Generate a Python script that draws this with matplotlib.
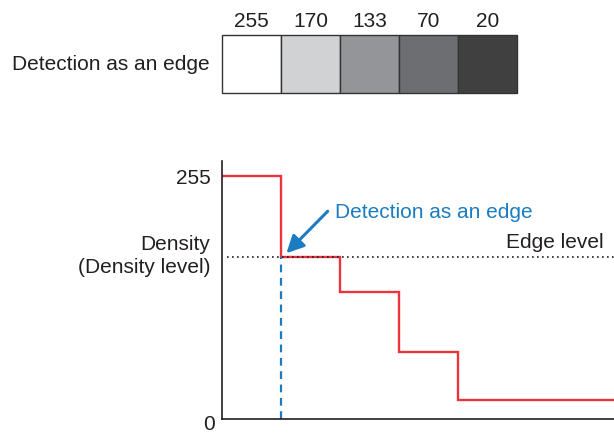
import matplotlib
matplotlib.use("Agg")
import matplotlib.pyplot as plt

# gray swatches shown on top
swatch_values = [255, 170, 133, 70, 20]
swatch_colors = ["#ffffff", "#d1d2d4", "#939598", "#6d6e71", "#404040"]

# density profile (one step per swatch)
step_edges = [0, 1, 2, 3, 4, 7]
step_levels = [255, 170, 133, 70, 20]
edge_level = 170
edge_x = 1

plt.rcParams['font.family'] = ['Liberation Sans', 'DejaVu Sans']
txt = "#231f20"
red = "#ee3340"
blue = "#1b7cc1"
fs = 15

fig = plt.figure(figsize=(6.14, 4.35), dpi=100)

# Top: swatch strip
ax2 = fig.add_axes([222 / 614, (435 - 94) / 435, 295 / 614, 58 / 435])
bars = ax2.bar(range(len(swatch_values)), [1] * len(swatch_values), width=1, align='edge',
               color=swatch_colors, edgecolor="#333333", linewidth=1.0)
for b in bars:
    b.set_clip_on(False)
ax2.set_xlim(0, len(swatch_values))
ax2.set_ylim(0, 1)
ax2.xaxis.tick_top()
ax2.set_xticks([i + 0.5 for i in range(len(swatch_values))])
ax2.set_xticklabels([str(v) for v in swatch_values], fontsize=fs, color=txt)
ax2.tick_params(axis='x', length=0, pad=3.5)
ax2.set_yticks([])
for s in ax2.spines.values():
    s.set_visible(False)
ax2.annotate("Detection as an edge", xy=(0, 0.5), xycoords='axes fraction',
             xytext=(-9, 0), textcoords='offset points', ha='right', va='center',
             fontsize=fs, color=txt)

# Bottom: density steps
ax = fig.add_axes([221.5 / 614, 15 / 435, (614 - 221.5) / 614, 258 / 435])
ax.set_xlim(0, (614 - 221.5) / 59)
ax.set_ylim(0, 258 / 0.953)
for side in ['top', 'right']:
    ax.spines[side].set_visible(False)
for side in ['left', 'bottom']:
    ax.spines[side].set_linewidth(1.2)
    ax.spines[side].set_color("#231f20")
ax.set_xticks([])
ax.set_yticks([255])
ax.set_yticklabels(["255"], fontsize=fs, color=txt)
ax.tick_params(axis='y', length=0, pad=8)

ax.axhline(edge_level, xmin=0.015, xmax=1, color="#231f20", linestyle=(0, (1, 2)), lw=1.2)
ax.plot([edge_x, edge_x], [0, edge_level], color=blue, linestyle=(0, (3.5, 2.5)), lw=1.6)
ax.stairs(step_levels, step_edges, baseline=None, color=red, lw=1.7)

ax.annotate("0", xy=(0, 0), xycoords='data', xytext=(-5, -7.3), textcoords='offset points',
            ha='right', va='baseline', fontsize=fs, color=txt)
ax.annotate("Density\n(Density level)", xy=(0, 172), xycoords='data', xytext=(-8, 0),
            textcoords='offset points', ha='right', va='center', fontsize=fs, color=txt,
            multialignment='right', linespacing=1.3)
ax.text(6.475, 186, "Edge level", ha='right', va='center', fontsize=fs, color=txt)
ax.text(1.93, 218, "Detection as an edge", ha='left', va='center', fontsize=fs, color=blue)
ax.annotate("", xy=(1.1, 174), xytext=(1.80, 218),
            arrowprops=dict(arrowstyle='-|>', color=blue, lw=2.2, mutation_scale=26,
                            shrinkA=0, shrinkB=0))

fig.savefig("out.png", dpi=100)
